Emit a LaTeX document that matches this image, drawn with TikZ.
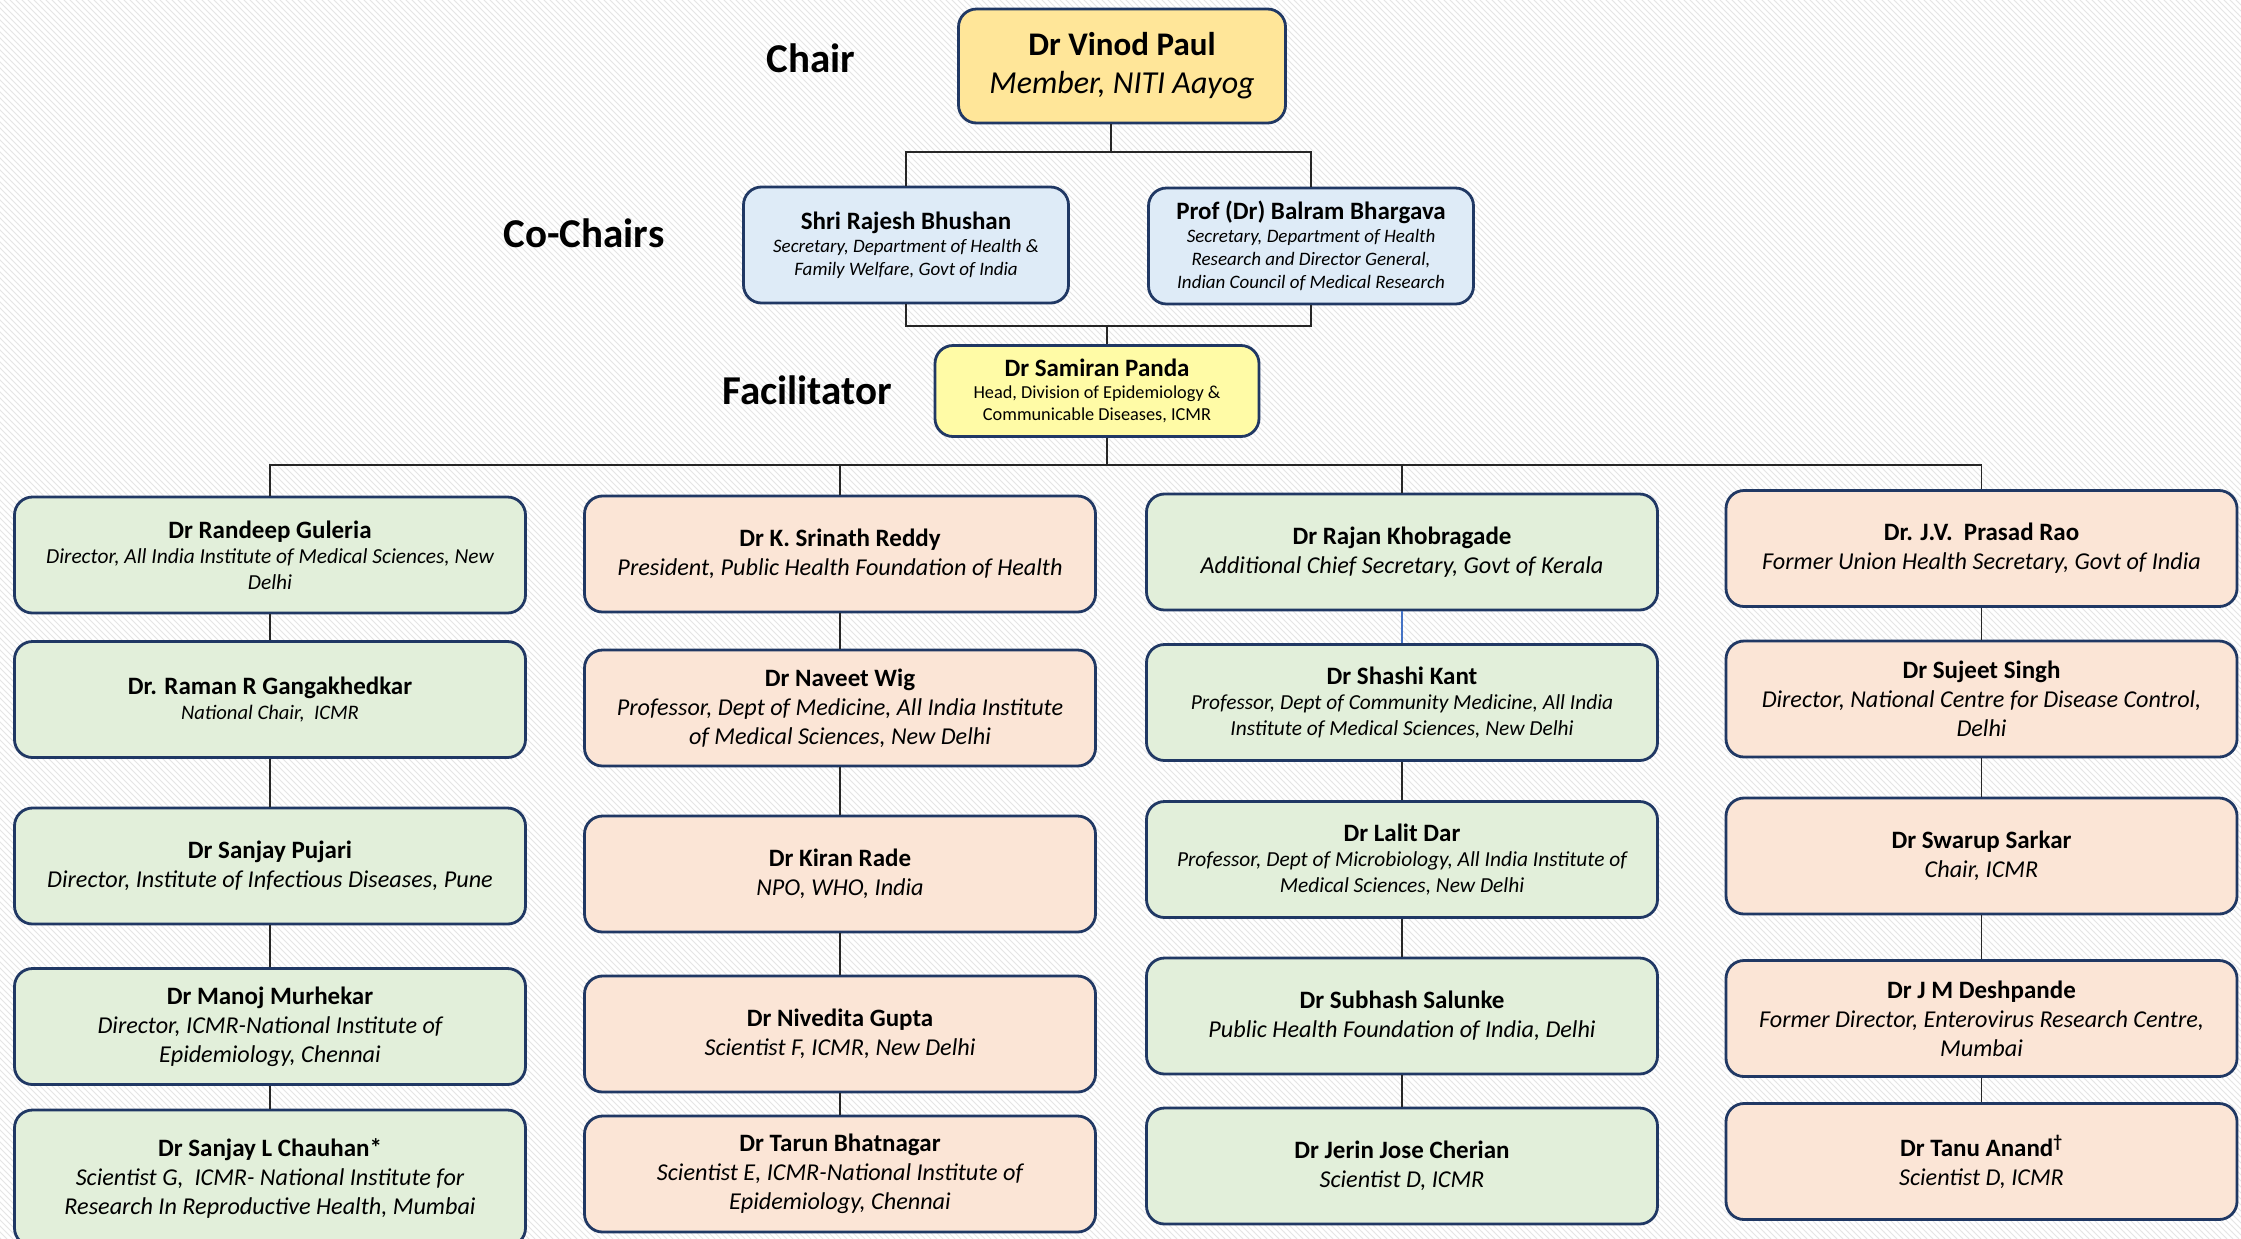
\documentclass[tikz,border=0pt]{standalone}
\usepackage{fontspec}
\setmainfont{Carlito}
\usetikzlibrary{patterns}
\definecolor{navy}{HTML}{203864}
\definecolor{chairfill}{HTML}{FFE699}
\definecolor{cofill}{HTML}{DEEBF7}
\definecolor{facfill}{HTML}{FFFBA6}
\definecolor{grfill}{HTML}{E2EFDA}
\definecolor{pkfill}{HTML}{FBE5D6}
\definecolor{linkblue}{HTML}{4472C4}
\newcommand{\who}[2]{{\fontsize{12.5}{15}\selectfont\bfseries\upshape #1}\\#2}
\tikzset{box/.style = {draw=navy, line width=1.4pt, rounded corners=9pt, align=center, inner sep=1pt,
                       minimum width=255.5pt, minimum height=58pt, font=\fontsize{12.1}{14.5}\selectfont\itshape},
         grbox/.style = {box, fill=grfill},
         pkbox/.style = {box, fill=pkfill},
         smallsub/.style = {font=\fontsize{10.7}{12.8}\selectfont\itshape},
         cobox/.style = {box, fill=cofill, minimum width=162.5pt, font=\fontsize{9.5}{11.4}\selectfont\itshape},
         tier/.style = {font=\fontsize{20.5}{24}\selectfont\bfseries},
         link/.style = {draw=black!85, line width=0.75pt}}

\begin{document}
\begin{tikzpicture}[x=0.5pt, y=-0.5pt]
        \useasboundingbox (0,0) rectangle (2241,1238);
        \fill[white] (0,0) rectangle (2241,1238);
        \fill[pattern=north west lines, pattern color=black!10] (0,0) rectangle (2241,1238);

        % top of the committee
        \node[tier] (chairlbl) at (811,58) {Chair};
        \node[tier] (colbl) at (584,233) {Co-Chairs};
        \node[tier] (faclbl) at (807,390) {Facilitator};

        \node[box, fill=chairfill, minimum width=163.5pt, minimum height=57pt, font=\fontsize{16}{19}\selectfont\itshape] (chair) at (1122,66)
            {{\fontsize{16.5}{20}\selectfont\bfseries\upshape Dr Vinod Paul}\\Member, NITI Aayog};
        \node[cobox] (cochairA) at (906,245) {\who{Shri Rajesh Bhushan}{Secretary, Department of Health \&\\Family Welfare, Govt of India}};
        \node[cobox] (cochairB) at (1311,246) {\who{Prof (Dr) Balram Bhargava}{Secretary, Department of Health\\Research and Director General,\\Indian Council of Medical Research}};
        \node[box, fill=facfill, minimum width=162pt, minimum height=45.5pt, font=\fontsize{9.15}{11}\selectfont] (facil) at (1097,391)
            {\who{Dr Samiran Panda}{Head, Division of Epidemiology \&\\Communicable Diseases, ICMR}};

        % first column
        \node[grbox, smallsub] (a1) at (270,555) {\who{Dr Randeep Guleria}{Director, All India Institute of Medical Sciences, New\\Delhi}};
        \node[grbox, font=\fontsize{10.3}{12.4}\selectfont\itshape] (a2) at (270,699.5) {\who{Dr. Raman R Gangakhedkar}{National Chair,\ \ ICMR}};
        \node[grbox] (a3) at (270,866) {\who{Dr Sanjay Pujari}{Director, Institute of Infectious Diseases, Pune}};
        \node[grbox] (a4) at (270,1026.5) {\who{Dr Manoj Murhekar}{Director, ICMR-National Institute of\\Epidemiology, Chennai}};
        \node[grbox, minimum height=68pt] (a5) at (270,1178) {\who{Dr Sanjay L Chauhan*}{Scientist G,\ \ ICMR- National Institute for\\Research In Reproductive Health, Mumbai}};

        % second column
        \node[pkbox] (b1) at (840,554) {\who{Dr K. Srinath Reddy}{President, Public Health Foundation of Health}};
        \node[pkbox] (b2) at (840,708) {\who{Dr Naveet Wig}{Professor, Dept of Medicine, All India Institute\\of Medical Sciences, New Delhi}};
        \node[pkbox] (b3) at (840,874) {\who{Dr Kiran Rade}{NPO, WHO, India}};
        \node[pkbox] (b4) at (840,1034) {\who{Dr Nivedita Gupta}{Scientist F, ICMR, New Delhi}};
        \node[pkbox] (b5) at (840,1174) {\who{Dr Tarun Bhatnagar}{Scientist E, ICMR-National Institute of\\Epidemiology, Chennai}};

        % third column
        \node[grbox] (c1) at (1402,552) {\who{Dr Rajan Khobragade}{Additional Chief Secretary, Govt of Kerala}};
        \node[grbox, smallsub] (c2) at (1402,702.5) {\who{Dr Shashi Kant}{Professor, Dept of Community Medicine, All India\\Institute of Medical Sciences, New Delhi}};
        \node[grbox, smallsub] (c3) at (1402,859.5) {\who{Dr Lalit Dar}{Professor, Dept of Microbiology, All India Institute of\\Medical Sciences, New Delhi}};
        \node[grbox] (c4) at (1402,1016) {\who{Dr Subhash Salunke}{Public Health Foundation of India, Delhi}};
        \node[grbox] (c5) at (1402,1166) {\who{Dr Jerin Jose Cherian}{Scientist D, ICMR}};

        % fourth column
        \node[pkbox] (d1) at (1981.5,548.5) {\who{Dr. J.V.\ \ Prasad Rao}{Former Union Health Secretary, Govt of India}};
        \node[pkbox] (d2) at (1981.5,699) {\who{Dr Sujeet Singh}{Director, National Centre for Disease Control,\\Delhi}};
        \node[pkbox] (d3) at (1981.5,856) {\who{Dr Swarup Sarkar}{Chair, ICMR}};
        \node[pkbox] (d4) at (1981.5,1018.5) {\who{Dr J M Deshpande}{Former Director, Enterovirus Research Centre,\\Mumbai}};
        \node[pkbox] (d5) at (1981.5,1161.5) {\who{Dr Tanu Anand\textsuperscript{\textdagger}}{Scientist D, ICMR}};

        % buses
        \coordinate (busA) at (1111,152);
        \coordinate (busB) at (1107,326);
        \coordinate (busC) at (1107,465);

        \draw[link] (busA) -- (busA |- chair.south);
        \draw[link] (cochairA.north) |- (busA) -| (cochairB.north);
        \draw[link] (cochairA.south) |- (busB) -| (cochairB.south);
        \draw[link] (busB) -- (busB |- facil.north);
        \draw[link] (busC |- facil.south) -- (busC);
        \draw[link] (a1.north) -- (a1.north |- busC) -- (d1.north |- busC) -- (d1.north);
        \draw[link] (b1.north) -- (b1.north |- busC);
        \draw[link] (c1.north) -- (c1.north |- busC);

        \draw[link] (a1.south) -- (a2.north);
        \draw[link] (a2.south) -- (a3.north);
        \draw[link] (a3.south) -- (a4.north);
        \draw[link] (a4.south) -- (a5.north);
        \draw[link] (b1.south) -- (b2.north);
        \draw[link] (b2.south) -- (b3.north);
        \draw[link] (b3.south) -- (b4.north);
        \draw[link] (b4.south) -- (b5.north);
        \draw[link, draw=linkblue] (c1.south) -- (c2.north);
        \draw[link] (c2.south) -- (c3.north);
        \draw[link] (c3.south) -- (c4.north);
        \draw[link] (c4.south) -- (c5.north);
        \draw[link] (d1.south) -- (d2.north);
        \draw[link] (d2.south) -- (d3.north);
        \draw[link] (d3.south) -- (d4.north);
        \draw[link] (d4.south) -- (d5.north);
    \end{tikzpicture}
\end{document}
